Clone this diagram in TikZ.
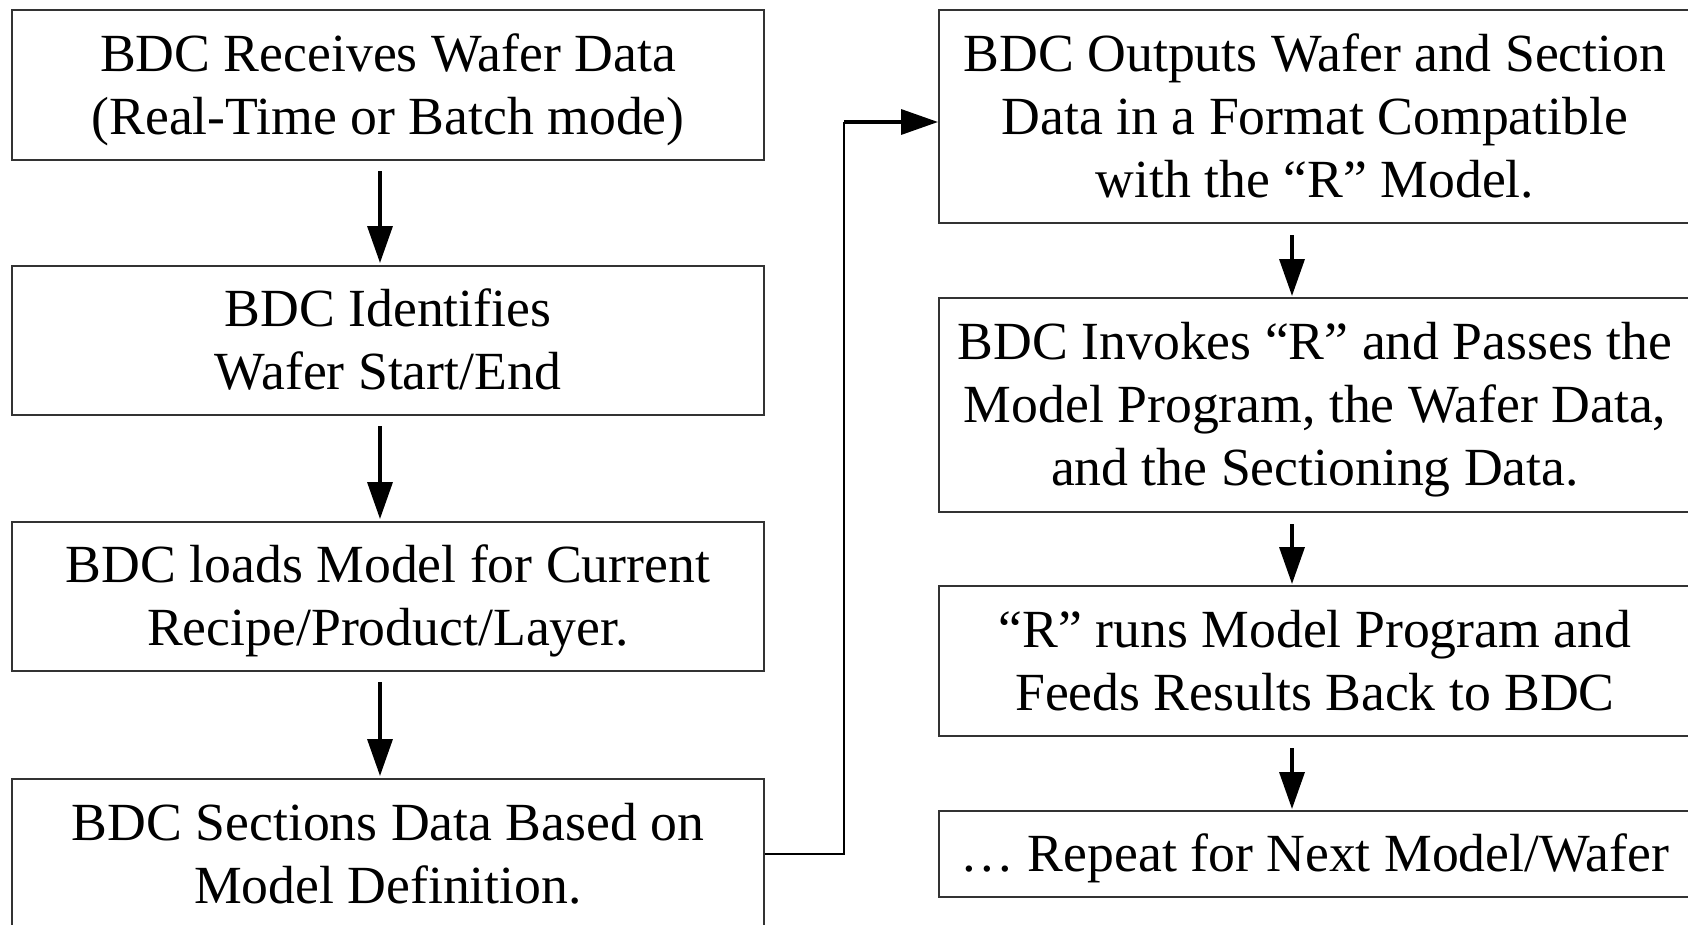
\documentclass[tikz,border=0pt]{standalone}
\usepackage{fontspec}
\setmainfont{Liberation Serif}
\usetikzlibrary{arrows.meta}
\definecolor{boxgray}{HTML}{333333}
\newcommand\mystrut{\rule[-14pt]{0pt}{63pt}}
\begin{document}
\begin{tikzpicture}[x=1pt,y=-1pt,
  stepbox/.style={draw=boxgray, line width=2pt, minimum width=752pt, inner sep=0pt,
    align=center, font=\fontsize{53.7}{63}\selectfont},
  arr/.style={line width=3.5pt, -{Triangle[length=37pt,width=25pt]}},
  thinline/.style={line width=2pt}]
\useasboundingbox (0,0) rectangle (1688,924);
% left column
\node[stepbox, minimum height=150pt] (L1) at (388,85) {\mystrut BDC Receives Wafer Data\\\mystrut(Real-Time or Batch mode)};
\node[stepbox, minimum height=149pt] (L2) at (388,340.5) {\mystrut BDC Identifies\\\mystrut Wafer Start/End};
\node[stepbox, minimum height=149pt] (L3) at (388,596.5) {\mystrut BDC loads Model for Current\\\mystrut Recipe/Product/Layer.};
\node[stepbox, minimum height=150pt] (L4) at (388,854) {\mystrut BDC Sections Data Based on\\\mystrut Model Definition.};
% right column
\node[stepbox, minimum height=213pt] (R1) at (1315,116.5) {\mystrut BDC Outputs Wafer and Section\\\mystrut Data in a Format Compatible\\\mystrut with the “R” Model.};
\node[stepbox, minimum height=214pt] (R2) at (1315,405) {\mystrut BDC Invokes “R” and Passes the\\\mystrut Model Program, the Wafer Data,\\\mystrut and the Sectioning Data.};
\node[stepbox, minimum height=150pt] (R3) at (1315,661) {\mystrut“R” runs Model Program and\\\mystrut Feeds Results Back to BDC};
\node[stepbox, minimum height=86pt] (R4) at (1315,854) {\mystrut… Repeat for Next Model/Wafer};
% left arrows
\draw[arr] ([xshift=-8pt,yshift=-10pt]L1.south) -- ([xshift=-8pt,yshift=2pt]L2.north);
\draw[arr] ([xshift=-8pt,yshift=-10pt]L2.south) -- ([xshift=-8pt,yshift=2pt]L3.north);
\draw[arr] ([xshift=-8pt,yshift=-10pt]L3.south) -- ([xshift=-8pt,yshift=2pt]L4.north);
% right arrows
\draw[arr] ([xshift=-23pt,yshift=-11pt]R1.south) -- ([xshift=-23pt,yshift=1pt]R2.north);
\draw[arr] ([xshift=-23pt,yshift=-11pt]R2.south) -- ([xshift=-23pt,yshift=1pt]R3.north);
\draw[arr] ([xshift=-23pt,yshift=-11pt]R3.south) -- ([xshift=-23pt,yshift=1pt]R4.north);
% connector
\coordinate (k) at (844,122);
\draw[thinline] (L4.east) -| (k);
\draw[arr] (k) -- (R1.west |- k);
\end{tikzpicture}
\end{document}
